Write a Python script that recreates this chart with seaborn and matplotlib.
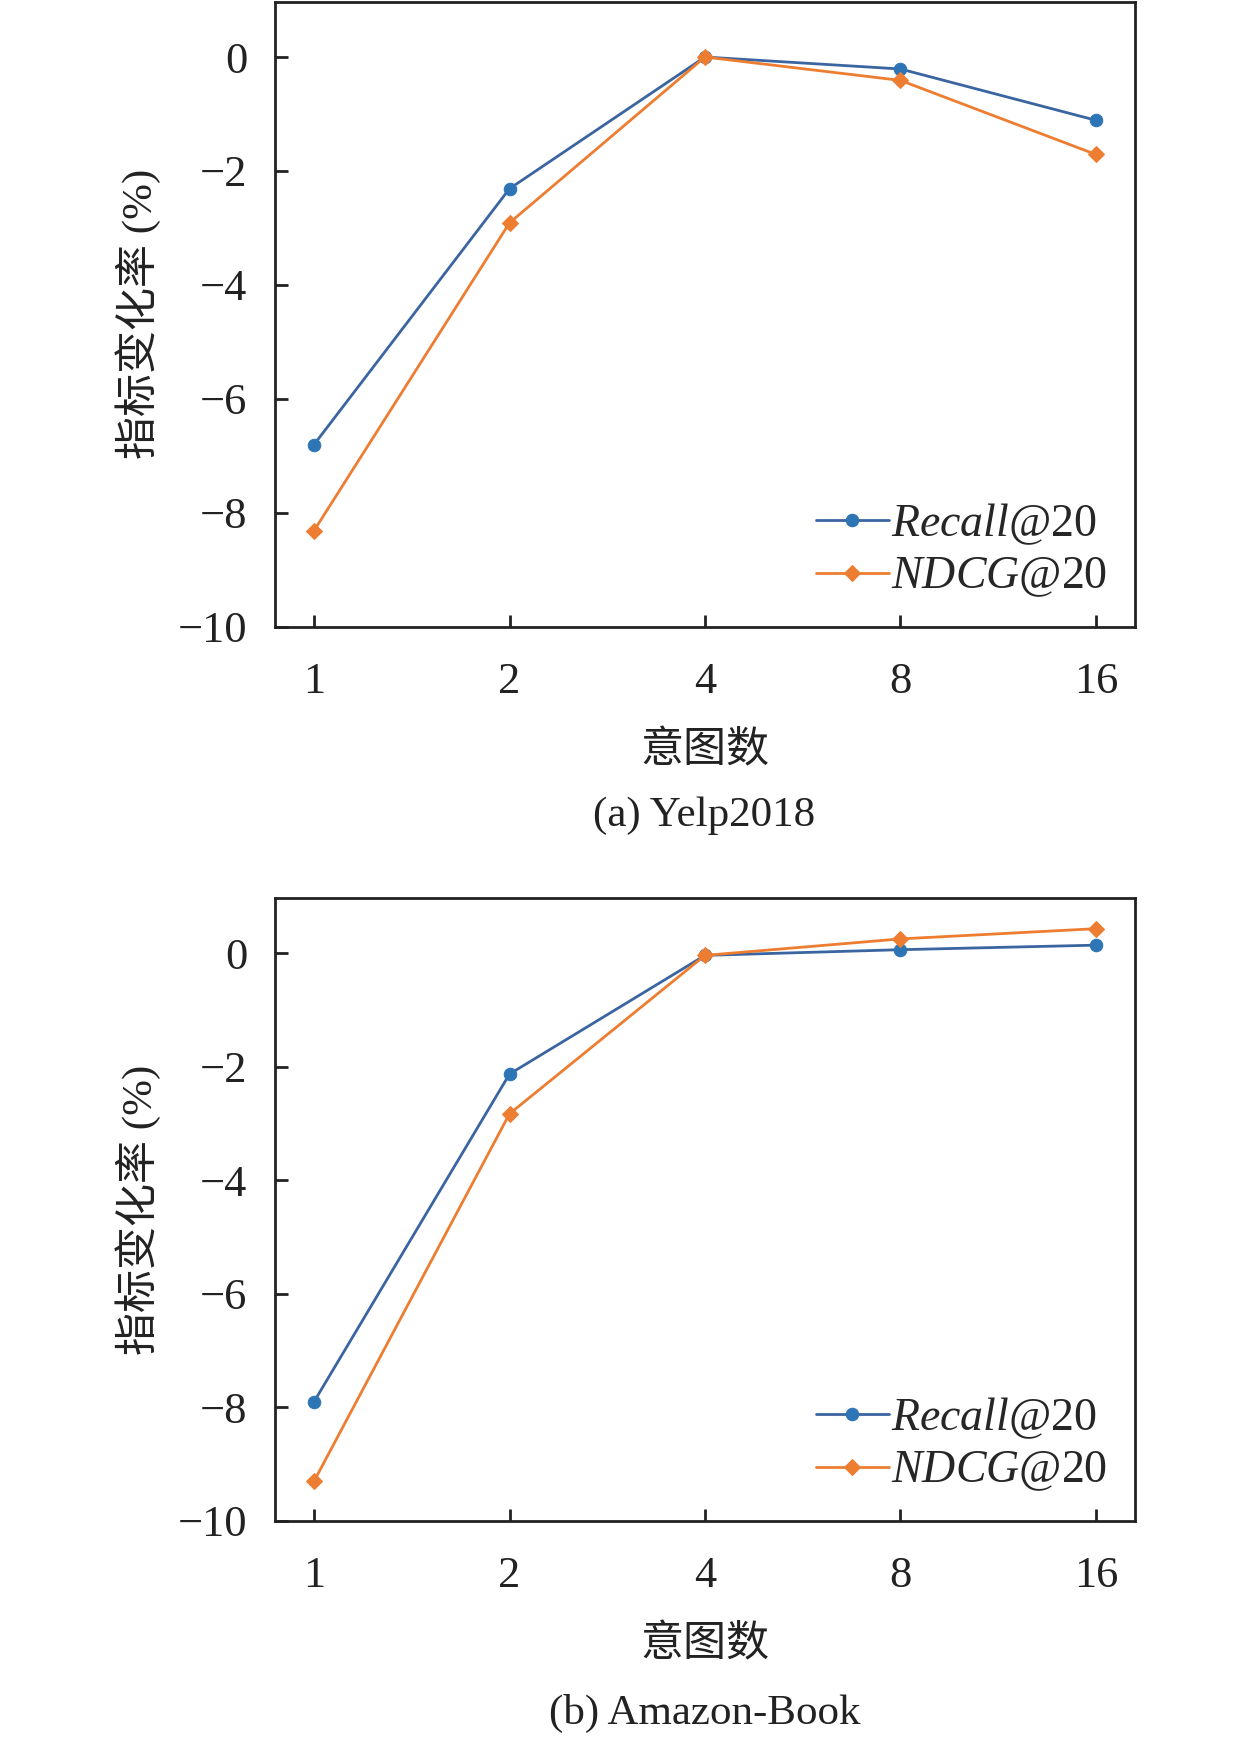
import numpy as np
import pandas as pd
import matplotlib
matplotlib.use("Agg")
import matplotlib.pyplot as plt
import seaborn as sns

intents = ["1", "2", "4", "8", "16"]

yelp_recall = [-6.80, -2.31, 0.00, -0.21, -1.11]
yelp_ndcg = [-8.31, -2.91, 0.00, -0.41, -1.71]

book_recall = [-7.90, -2.13, -0.04, 0.06, 0.14]
book_ndcg = [-9.30, -2.83, -0.04, 0.25, 0.43]

y_ticks = [0, -2, -4, -6, -8, -10]

BLUE = "#2E75B6"
BLUE_LINE = "#3A65A0"
ORANGE = "#ED7D31"


def draw(ax, recall, ndcg, caption, fig, cap_y):
    df = pd.DataFrame({"intent": intents * 2,
                       "value": recall + ndcg,
                       "metric": ["Recall@20"] * 5 + ["NDCG@20"] * 5})
    sub = df[df["metric"] == "Recall@20"]
    sns.lineplot(data=sub, x="intent", y="value", ax=ax, color=BLUE_LINE,
                 linewidth=2, marker="o", markersize=9, markerfacecolor=BLUE,
                 markeredgecolor=BLUE, label="$\\mathit{Recall@}$20")
    sub = df[df["metric"] == "NDCG@20"]
    sns.lineplot(data=sub, x="intent", y="value", ax=ax, color=ORANGE,
                 linewidth=2, marker="D", markersize=8, markerfacecolor=ORANGE,
                 markeredgecolor=ORANGE, label="$\\mathit{NDCG@}$20")

    ax.set_xlim(-0.2, 4.2)
    ax.set_ylim(-10, 0.97)
    ax.set_yticks(y_ticks)
    ax.set_yticklabels([str(t).replace("-", "\u2212") for t in y_ticks])
    ax.tick_params(axis="both", direction="in", length=9, width=2,
                   labelsize=32, bottom=True, left=True, colors="#222222")
    ax.tick_params(axis="x", pad=25)
    ax.tick_params(axis="y", pad=20)
    for s in ax.spines.values():
        s.set_linewidth(2)
        s.set_color("#222222")
    ax.grid(False)
    ax.set_xlabel("意图数", fontsize=31, labelpad=21, color="#222222")
    ax.set_ylabel("指标变化率 (%)", fontsize=31, labelpad=12, color="#222222")
    ax.legend(loc="lower right", frameon=False, fontsize=33,
              handlelength=1.6, handletextpad=0.05,
              borderaxespad=0.2, labelspacing=0.2,
              bbox_to_anchor=(1.0, 0.0))
    fig.text(0.5594, cap_y, caption, ha="center", va="center", fontsize=31,
             color="#222222")


def main():
    sns.set_theme(style="white")
    plt.rcParams["font.family"] = ["Liberation Serif", "Noto Sans CJK SC"]
    plt.rcParams["mathtext.fontset"] = "custom"
    plt.rcParams["mathtext.it"] = "Liberation Serif:italic"
    plt.rcParams["mathtext.rm"] = "Liberation Serif"

    fig = plt.figure(figsize=(12.59, 17.39), dpi=100)
    ax1 = fig.add_axes([0.2184, 0.6395, 0.6831, 0.3595])
    ax2 = fig.add_axes([0.2184, 0.1254, 0.6831, 0.3582])

    draw(ax1, yelp_recall, yelp_ndcg, "(a) Yelp2018", fig, 0.531)
    draw(ax2, book_recall, book_ndcg, "(b) Amazon-Book", fig, 0.0145)

    fig.savefig("out.png", dpi=100)


if __name__ == "__main__":
    main()
